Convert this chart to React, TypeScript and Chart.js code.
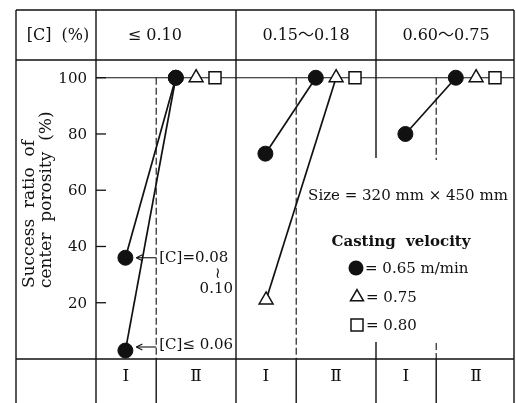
import React, { useEffect, useRef } from "react";
import { Chart, registerables } from "chart.js";

Chart.register(...registerables);

// ---------- data ----------
const panelLabels = ["≤ 0.10", "0.15～0.18", "0.60～0.75"];
const groupLabels = ["Ⅰ", "Ⅱ"];
const yTicks = [20, 40, 60, 80, 100];
// success ratio of center porosity (%)
const circleI: number[][] = [[36, 3], [73], [80]]; // 0.65 m/min, group I
const circleII = [100, 100, 100]; // 0.65 m/min, group II
const triangleI: (number | null)[] = [null, 21, null]; // 0.75, group I
const triangleII = [100, 100, 100]; // 0.75, group II
const squareII = [100, 100, 100]; // 0.80, group II
const noteHigh = ["[C]=0.08", "≀", "0.10"];
const noteLow = "[C]≤ 0.06";
const sizeNote = "Size = 320 mm × 450 mm";
const legendTitle = "Casting  velocity";
const legendItems = ["= 0.65 m/min", "= 0.75", "= 0.80"];
const yTitle = ["Success  ratio  of", "center  porosity  (%)"];
const headerLeft = "[C]  (%)";

// ---------- layout ----------
const W = 516;
const H = 403;
const X0 = 16;
const TOP = 10;
const RIGHT = 514;
const OFF = { Ic: 0.21, It: 0.215, IIc: 0.57, IIt: 0.715, IIs: 0.85, dash: 0.43, cellI: 0.214, cellII: 0.714 };
const headerCenters = [0.42, 0.5, 0.5];
const SERIF = '"DejaVu Serif", "Noto Sans CJK JP", serif';
const INK = "#111";

function line(ctx: CanvasRenderingContext2D, x1: number, y1: number, x2: number, y2: number) {
  ctx.beginPath();
  ctx.moveTo(x1, y1);
  ctx.lineTo(x2, y2);
  ctx.stroke();
}

const tablePlugin = {
  id: "tableFrame",
  beforeDatasetsDraw(chart: any) {
    const { ctx } = chart;
    const x = chart.scales.x;
    const y = chart.scales.y;
    const ax = x.left;
    const hb = y.top;
    const pb = y.getPixelForValue(0);
    ctx.save();
    ctx.strokeStyle = INK;
    ctx.lineWidth = 1.4;
    // frame
    line(ctx, X0, TOP, RIGHT, TOP);
    line(ctx, X0, hb, RIGHT, hb);
    line(ctx, X0, pb, RIGHT, pb);
    line(ctx, X0, TOP, X0, H);
    line(ctx, RIGHT, TOP, RIGHT, H);
    line(ctx, ax, TOP, ax, H);
    // panel dividers
    const d1 = x.getPixelForValue(1);
    line(ctx, d1, TOP, d1, H);
    const d2 = x.getPixelForValue(2);
    line(ctx, d2, TOP, d2, 158);
    line(ctx, d2, 342, d2, H);
    // bottom row dividers (solid)
    for (let p = 0; p < 3; p++) {
      const dx = x.getPixelForValue(p + OFF.dash);
      line(ctx, dx, pb, dx, H);
    }
    // 100 % line
    ctx.lineWidth = 1.1;
    line(ctx, ax, y.getPixelForValue(100), RIGHT, y.getPixelForValue(100));
    // dashed lines
    ctx.setLineDash([7, 3]);
    ctx.lineWidth = 1.1;
    for (let p = 0; p < 3; p++) {
      const dx = x.getPixelForValue(p + OFF.dash);
      if (p < 2) {
        line(ctx, dx, y.getPixelForValue(100), dx, pb);
      } else {
        line(ctx, dx, y.getPixelForValue(100), dx, 160);
        line(ctx, dx, 343, dx, pb);
      }
    }
    ctx.setLineDash([]);
    // y ticks
    ctx.lineWidth = 1.3;
    ctx.fillStyle = INK;
    ctx.font = `15px ${SERIF}`;
    ctx.textAlign = "right";
    ctx.textBaseline = "middle";
    yTicks.forEach((t) => {
      const ty = y.getPixelForValue(t);
      line(ctx, ax, ty, ax + 10, ty);
      ctx.fillText(String(t), ax - 9, ty + 1);
    });
    // header texts
    ctx.textAlign = "center";
    ctx.font = `16px ${SERIF}`;
    ctx.fillText(headerLeft, (X0 + ax) / 2 + 2, (TOP + hb) / 2 + 1);
    panelLabels.forEach((lab, p) => {
      ctx.fillText(lab, x.getPixelForValue(p + headerCenters[p]), (TOP + hb) / 2 + 1);
    });
    // bottom labels
    ctx.font = `17px ${SERIF}`;
    for (let p = 0; p < 3; p++) {
      ctx.fillText(groupLabels[0], x.getPixelForValue(p + OFF.cellI), 377);
      ctx.fillText(groupLabels[1], x.getPixelForValue(p + OFF.cellII), 377);
    }
    // y title
    ctx.font = `17px ${SERIF}`;
    ctx.textAlign = "left";
    yTitle.forEach((t, i) => {
      ctx.save();
      ctx.translate(30 + i * 17, 288);
      ctx.rotate(-Math.PI / 2);
      ctx.fillText(t, 0, 0);
      ctx.restore();
    });
    ctx.restore();
  },
  afterDatasetsDraw(chart: any) {
    const { ctx } = chart;
    const x = chart.scales.x;
    const y = chart.scales.y;
    ctx.save();
    ctx.strokeStyle = INK;
    ctx.fillStyle = INK;
    ctx.lineWidth = 1.1;
    const dx = x.getPixelForValue(OFF.dash);
    const tipX = x.getPixelForValue(OFF.Ic) + 11;
    const arrow = (ay: number) => {
      line(ctx, dx, ay, tipX, ay);
      line(ctx, tipX, ay, tipX + 6, ay - 3);
      line(ctx, tipX, ay, tipX + 6, ay + 3);
    };
    const yHigh = y.getPixelForValue(circleI[0][0]);
    const yLow = Math.min(y.getPixelForValue(circleI[0][1]), y.bottom - 12);
    arrow(yHigh);
    arrow(yLow);
    ctx.font = `15px ${SERIF}`;
    ctx.textBaseline = "middle";
    ctx.textAlign = "left";
    ctx.fillText(noteHigh[0], dx + 3, yHigh);
    ctx.textAlign = "center";
    ctx.fillText(noteHigh[1], 218, yHigh + 16);
    ctx.textAlign = "right";
    ctx.fillText(noteHigh[2], 233, yHigh + 31);
    ctx.textAlign = "left";
    ctx.fillText(noteLow, dx + 3, yLow - 2);

    // size note + legend
    ctx.textAlign = "center";
    ctx.fillText(sizeNote, 408, 196);
    ctx.font = `bold 15px ${SERIF}`;
    ctx.fillText(legendTitle, 401, 242);
    ctx.font = `15px ${SERIF}`;
    ctx.textAlign = "left";
    const ly = [268, 297, 325];
    // circle
    ctx.beginPath();
    ctx.arc(356, ly[0], 7.5, 0, Math.PI * 2);
    ctx.fill();
    // triangle
    ctx.lineWidth = 1.5;
    const r = 7.5;
    ctx.beginPath();
    ctx.moveTo(357, ly[1] - r);
    ctx.lineTo(357 + r * 0.866, ly[1] + r * 0.5);
    ctx.lineTo(357 - r * 0.866, ly[1] + r * 0.5);
    ctx.closePath();
    ctx.stroke();
    // square
    ctx.strokeRect(351, ly[2] - 6, 12, 12);
    ctx.fillText(legendItems[0], 365, ly[0] + 1);
    ctx.fillText(legendItems[1], 366, ly[1] + 1);
    ctx.fillText(legendItems[2], 366, ly[2] + 1);
    ctx.restore();
  },
};

function buildDatasets() {
  const ds: any[] = [];
  const circleStyle = { pointStyle: "circle", pointRadius: 7.5, pointBackgroundColor: INK, pointBorderColor: INK, pointBorderWidth: 1 };
  const triStyle = { pointStyle: "triangle", pointRadius: 8, pointBackgroundColor: "#fff", pointBorderColor: INK, pointBorderWidth: 1.5 };
  const sqStyle = { pointStyle: "rect", pointRadius: 8.5, pointBackgroundColor: "#fff", pointBorderColor: INK, pointBorderWidth: 1.5 };
  const base = { showLine: true, borderColor: INK, borderWidth: 1.7, fill: false, tension: 0 };
  for (let p = 0; p < 3; p++) {
    circleI[p].forEach((v) => {
      ds.push({ ...base, ...circleStyle, data: [{ x: p + OFF.Ic, y: v }, { x: p + OFF.IIc, y: circleII[p] }] });
    });
    const t = triangleI[p];
    if (t !== null) {
      ds.push({ ...base, ...triStyle, data: [{ x: p + OFF.It, y: t }, { x: p + OFF.IIt, y: triangleII[p] }] });
    } else {
      ds.push({ ...base, ...triStyle, showLine: false, data: [{ x: p + OFF.IIt, y: triangleII[p] }] });
    }
    ds.push({ ...base, ...sqStyle, showLine: false, data: [{ x: p + OFF.IIs, y: squareII[p] }] });
  }
  return ds;
}

export default function App() {
  const ref = useRef<HTMLCanvasElement | null>(null);
  useEffect(() => {
    if (!ref.current) return;
    const chart = new Chart(ref.current, {
      type: "scatter",
      data: { datasets: buildDatasets() },
      options: {
        animation: false,
        responsive: false,
        devicePixelRatio: 1,
        layout: { autoPadding: false, padding: { left: 96, top: 60, right: 0, bottom: 44 } },
        plugins: { legend: { display: false }, tooltip: { enabled: false } },
        scales: {
          x: { type: "linear", min: 0, max: 3, display: false },
          y: { type: "linear", min: 0, max: 106.3, display: false },
        },
      },
      plugins: [tablePlugin],
    });
    return () => chart.destroy();
  }, []);
  return (
    <div style={{ position: "fixed", left: 0, top: 0, width: W, height: H, background: "#fff" }}>
      <canvas ref={ref} width={W} height={H} style={{ display: "block" }} />
    </div>
  );
}
